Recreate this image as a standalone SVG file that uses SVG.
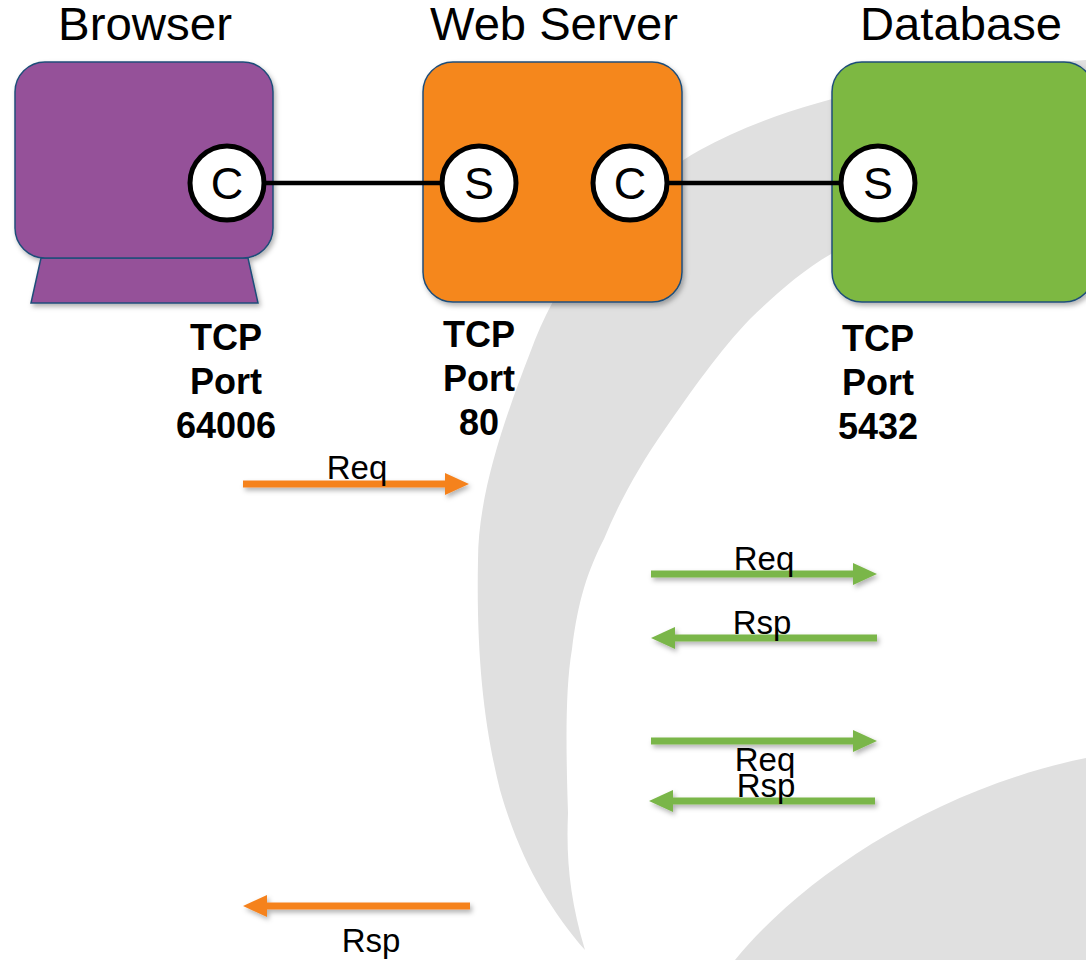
<svg xmlns="http://www.w3.org/2000/svg" width="1086" height="960" viewBox="0 0 1086 960">
<defs>
<style>
.title{font-family:"Liberation Sans",Arial,sans-serif;font-size:46px;fill:#000;text-anchor:middle}
.port{font-family:"Liberation Sans",Arial,sans-serif;font-size:36px;font-weight:bold;fill:#000;text-anchor:middle}
.lbl{font-family:"Liberation Sans",Arial,sans-serif;font-size:33px;fill:#000;text-anchor:middle}
.sock{font-family:"Liberation Sans",Arial,sans-serif;font-size:45px;fill:#000;text-anchor:middle}
.box{stroke:#1F4E79;stroke-width:1.5}
.circ{fill:#fff;stroke:#000;stroke-width:5}
.conn{stroke:#000;stroke-width:4.5;fill:none}
.oarr{stroke:#F5821F;stroke-width:7;fill:none}
.garr{stroke:#7AB648;stroke-width:7;fill:none}
.bg{fill:#E0E0E0}
</style>
<filter id="sh" x="-10%" y="-10%" width="130%" height="140%">
<feDropShadow dx="2" dy="3" stdDeviation="2.5" flood-color="#000" flood-opacity="0.3"/>
</filter>
<marker id="ho" markerUnits="userSpaceOnUse" markerWidth="24" markerHeight="22" viewBox="0 0 24 22" refX="0" refY="11" orient="auto">
<path d="M0,0 L24,11 L0,22 Z" fill="#F5821F"/>
</marker>
<marker id="hg" markerUnits="userSpaceOnUse" markerWidth="24" markerHeight="22" viewBox="0 0 24 22" refX="0" refY="11" orient="auto">
<path d="M0,0 L24,11 L0,22 Z" fill="#7AB648"/>
</marker>
</defs>
<rect width="1086" height="960" fill="#fff"/>
<g id="background">
<path class="bg" d="M1086,60 C930,70 790,100 700,150 C620,195 560,270 530,353 C500,430 478,500 478,560 C476,660 485,730 500,790 C520,860 550,910 585,950 C570,900 566,860 568,813 C566,750 565,690 572,649 C578,600 588,570 604,539 C620,500 640,465 665,429 C690,393 720,350 750,319 C775,295 800,272 831,254 C900,210 1000,170 1086,150 Z"/>
<path class="bg" d="M735,960 C800,880 930,790 1086,758 L1086,960 Z"/>
</g>
<g id="titles">
<text class="title" x="145" y="40" textLength="174" lengthAdjust="spacingAndGlyphs">Browser</text>
<text class="title" x="554" y="40" textLength="248" lengthAdjust="spacingAndGlyphs">Web Server</text>
<text class="title" x="961" y="40" textLength="202" lengthAdjust="spacingAndGlyphs">Database</text>
</g>
<g id="browser">
<g filter="url(#sh)">
<path class="box" d="M41,258 L248,258 L258,303 L31,303 Z" fill="#955199"/>
<rect class="box" x="15" y="62" width="258" height="196" rx="30" fill="#955199"/>
</g>
<circle class="circ" cx="227" cy="183" r="37"/>
<text class="sock" x="227" y="199">C</text>
<text class="port" x="226" y="350">TCP</text>
<text class="port" x="226" y="394">Port</text>
<text class="port" x="226" y="438">64006</text>
</g>
<g id="webserver">
<rect class="box" x="423" y="62" width="259" height="240" rx="30" fill="#F5871F" filter="url(#sh)"/>
<circle class="circ" cx="479" cy="183" r="37"/>
<text class="sock" x="479" y="199">S</text>
<circle class="circ" cx="630" cy="183" r="37"/>
<text class="sock" x="630" y="199">C</text>
<text class="port" x="479" y="347">TCP</text>
<text class="port" x="479" y="391">Port</text>
<text class="port" x="479" y="435">80</text>
</g>
<g id="database">
<rect class="box" x="832" y="62" width="262" height="240" rx="30" fill="#7DB843" filter="url(#sh)"/>
<circle class="circ" cx="878" cy="183" r="37"/>
<text class="sock" x="878" y="199">S</text>
<text class="port" x="878" y="351">TCP</text>
<text class="port" x="878" y="395">Port</text>
<text class="port" x="878" y="439">5432</text>
</g>
<g id="connectors">
<line class="conn" x1="266" y1="183" x2="440" y2="183"/>
<line class="conn" x1="669" y1="183" x2="839" y2="183"/>
<g filter="url(#sh)">
<line class="oarr" x1="243" y1="484" x2="445" y2="484" marker-end="url(#ho)"/>
<line class="garr" x1="651" y1="574" x2="853" y2="574" marker-end="url(#hg)"/>
<line class="garr" x1="877" y1="638" x2="675" y2="638" marker-end="url(#hg)"/>
<line class="garr" x1="651" y1="741" x2="853" y2="741" marker-end="url(#hg)"/>
<line class="garr" x1="875" y1="801" x2="673" y2="801" marker-end="url(#hg)"/>
<line class="oarr" x1="470" y1="906" x2="267" y2="906" marker-end="url(#ho)"/>
</g>
<text class="lbl" x="357" y="479">Req</text>
<text class="lbl" x="764" y="570">Req</text>
<text class="lbl" x="762" y="634">Rsp</text>
<text class="lbl" x="765" y="771">Req</text>
<text class="lbl" x="766" y="797">Rsp</text>
<text class="lbl" x="371" y="952">Rsp</text>
</g>
</svg>
